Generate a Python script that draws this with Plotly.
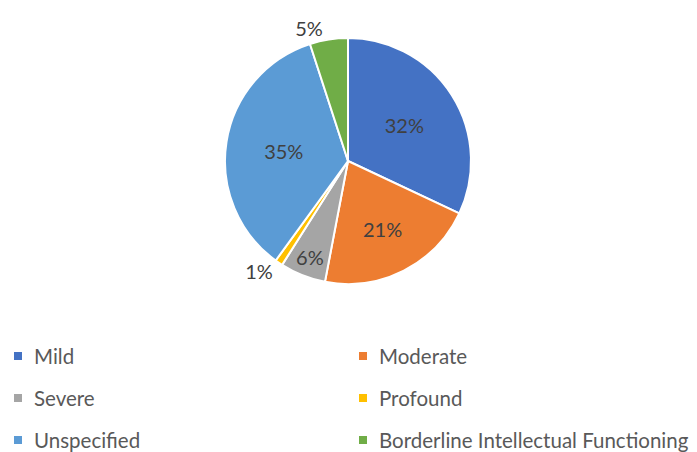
import plotly.graph_objects as go

categories = ["Mild", "Moderate", "Severe", "Profound", "Unspecified", "Borderline Intellectual Functioning"]
values = [32, 21, 6, 1, 35, 5]
colors = ["#4472C4", "#ED7D31", "#A5A5A5", "#FFC000", "#5B9BD5", "#70AD47"]
text_positions = ["inside", "inside", "inside", "outside", "inside", "outside"]

FONT = "Lato, 'Open Sans', sans-serif"
LABEL_COLOR = "#404040"
LEGEND_COLOR = "#595959"
# The page body has an 8px default margin, so the figure is 8px smaller
# than the window and every pixel position below is shifted by 8px.
OFF = 8
W, H = 697 - OFF, 452 - OFF

CX, CY, R = 348 - OFF, 161 - OFF, 123   # pie centre / radius, px

fig = go.Figure(
    go.Pie(
        labels=categories,
        values=values,
        sort=False,
        direction="clockwise",
        rotation=0,
        marker=dict(colors=colors, line=dict(color="white", width=2)),
        texttemplate="%{percent:.0%}",
        textposition=text_positions,
        insidetextorientation="horizontal",
        textfont=dict(family=FONT, size=20, color=LABEL_COLOR),
        domain=dict(x=[(CX - R) / W, (CX + R) / W], y=[(H - CY - R) / H, (H - CY + R) / H]),
        hoverinfo="label+percent",
        showlegend=False,
    )
)

# Legend drawn as two columns x three rows (Excel-style)
col_x = [14 - OFF, 359 - OFF]              # marker left edge, px
row_y = [356 - OFF, 398 - OFF, 440 - OFF]  # row centre, px
marker_size = 8
text_gap = 18
for i, (name, col) in enumerate(zip(categories, colors)):
    cx = col_x[i % 2]
    cy = row_y[i // 2]
    fig.add_shape(
        type="rect", xref="paper", yref="paper",
        x0=cx / W, x1=(cx + marker_size) / W,
        y0=(H - cy - marker_size / 2) / H, y1=(H - cy + marker_size / 2) / H,
        fillcolor=col, line=dict(width=0),
    )
    fig.add_annotation(
        xref="paper", yref="paper",
        x=(cx + text_gap) / W, y=(H - cy) / H,
        xanchor="left", yanchor="middle",
        text=name, showarrow=False,
        font=dict(family=FONT, size=20.5, color=LEGEND_COLOR),
    )

fig.update_layout(
    width=W,
    height=H,
    margin=dict(l=0, r=0, t=0, b=0, autoexpand=False),
    paper_bgcolor="white",
    plot_bgcolor="white",
    showlegend=False,
)

fig.write_html("out.html")
